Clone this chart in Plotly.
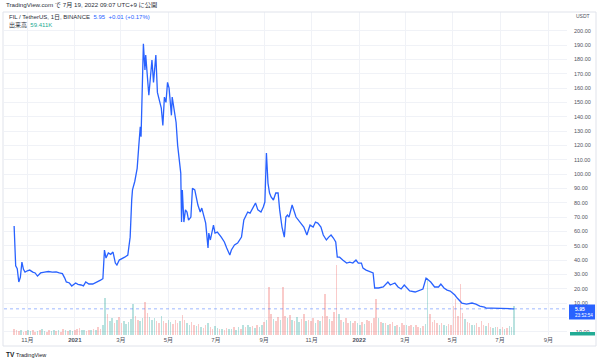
import plotly.graph_objects as go
import pandas as pd

# ---------------- data ----------------
price_dates = [
    "2020-10-15", "2020-10-16", "2020-10-17", "2020-10-19", "2020-10-21", "2020-10-23", "2020-10-25",
    "2020-10-27", "2020-10-29", "2020-11-01", "2020-11-04", "2020-11-08", "2020-11-11", "2020-11-14",
    "2020-11-18", "2020-11-23", "2020-11-28", "2020-12-03", "2020-12-08", "2020-12-12", "2020-12-16",
    "2020-12-19", "2020-12-21", "2020-12-25", "2020-12-28", "2021-01-02", "2021-01-05", "2021-01-09",
    "2021-01-12", "2021-01-15", "2021-01-19", "2021-01-24", "2021-01-30", "2021-02-03", "2021-02-06",
    "2021-02-08", "2021-02-10", "2021-02-13", "2021-02-16", "2021-02-19", "2021-02-22", "2021-02-24",
    "2021-02-27", "2021-03-03", "2021-03-06", "2021-03-10", "2021-03-13", "2021-03-15", "2021-03-16",
    "2021-03-19", "2021-03-22", "2021-03-24", "2021-03-26", "2021-03-27", "2021-03-30", "2021-04-01",
    "2021-04-02", "2021-04-06", "2021-04-10", "2021-04-12", "2021-04-15", "2021-04-17", "2021-04-22",
    "2021-04-24", "2021-04-26", "2021-04-28", "2021-04-30", "2021-05-02", "2021-05-05", "2021-05-06",
    "2021-05-09", "2021-05-11", "2021-05-13", "2021-05-17", "2021-05-18", "2021-05-19", "2021-05-21",
    "2021-05-23", "2021-05-25", "2021-05-27", "2021-05-30", "2021-06-01", "2021-06-04", "2021-06-08",
    "2021-06-11", "2021-06-13", "2021-06-16", "2021-06-18", "2021-06-21", "2021-06-22", "2021-06-24",
    "2021-06-28", "2021-06-30", "2021-07-03", "2021-07-08", "2021-07-12", "2021-07-15", "2021-07-19",
    "2021-07-21", "2021-07-23", "2021-07-25", "2021-07-29", "2021-08-03", "2021-08-06", "2021-08-08",
    "2021-08-11", "2021-08-14", "2021-08-18", "2021-08-21", "2021-08-24", "2021-08-28", "2021-08-31",
    "2021-09-02", "2021-09-04", "2021-09-06", "2021-09-08", "2021-09-10", "2021-09-13", "2021-09-16",
    "2021-09-19", "2021-09-21", "2021-09-24", "2021-09-27", "2021-09-29", "2021-10-01", "2021-10-03",
    "2021-10-07", "2021-10-12", "2021-10-17", "2021-10-22", "2021-10-26", "2021-10-30", "2021-11-03",
    "2021-11-06", "2021-11-09", "2021-11-13", "2021-11-16", "2021-11-20", "2021-11-23", "2021-11-26",
    "2021-11-29", "2021-12-02", "2021-12-04", "2021-12-07", "2021-12-11", "2021-12-16", "2021-12-20",
    "2021-12-24", "2021-12-28", "2021-12-31", "2022-01-04", "2022-01-06", "2022-01-10", "2022-01-15",
    "2022-01-19", "2022-01-21", "2022-01-26", "2022-02-01", "2022-02-07", "2022-02-10", "2022-02-16",
    "2022-02-20", "2022-02-24", "2022-02-28", "2022-03-04", "2022-03-07", "2022-03-14", "2022-03-20",
    "2022-03-24", "2022-03-28", "2022-03-31", "2022-04-03", "2022-04-08", "2022-04-13", "2022-04-16",
    "2022-04-20", "2022-04-24", "2022-04-28", "2022-05-01", "2022-05-04", "2022-05-07", "2022-05-11",
    "2022-05-13", "2022-05-19", "2022-05-26", "2022-05-31", "2022-06-05", "2022-06-11", "2022-06-13",
    "2022-06-20", "2022-06-26", "2022-07-05", "2022-07-14", "2022-07-17", "2022-07-19",
]
price_values = [
    63.7, 45.0, 36.0, 34.0, 24.7, 28.0, 38.6,
    33.5, 31.6, 32.5, 33.0, 31.6, 31.0, 28.8,
    31.0, 31.6, 32.0, 31.6, 31.8, 31.0, 30.5,
    27.4, 24.7, 24.0, 21.9, 24.0, 23.0, 22.6,
    22.0, 24.7, 23.3, 23.3, 24.7, 26.0, 27.0,
    47.0, 41.4, 45.0, 44.0, 45.6, 37.9, 36.5,
    40.0, 41.0, 42.0, 43.5, 56.0, 82.0, 89.0,
    95.0, 104.0, 119.0, 133.0, 126.0, 191.0, 172.6,
    183.0, 155.0, 179.6, 164.0, 183.0, 157.0, 146.0,
    134.0, 153.7, 150.0, 164.0, 160.0, 141.0, 153.7,
    144.7, 136.0, 120.0, 100.7, 66.5, 88.9, 66.5,
    75.0, 73.5, 67.9, 70.0, 90.0, 88.9, 78.4,
    73.5, 76.3, 70.0, 65.8, 48.4, 58.8, 54.0,
    64.4, 58.8, 59.5, 56.0, 52.6, 48.4, 43.5,
    47.0, 49.0, 50.5, 51.9, 56.0, 68.0, 70.0,
    73.5, 72.8, 76.3, 79.8, 75.0, 73.5, 77.0,
    80.5, 114.7, 93.7, 86.8, 84.0, 81.9, 86.8,
    86.8, 75.0, 63.0, 56.0, 70.0, 71.4, 70.0,
    78.4, 70.0, 66.5, 63.0, 57.5, 64.4, 63.0,
    66.5, 65.8, 63.0, 57.5, 54.0, 56.0, 57.5,
    55.4, 52.6, 42.0, 42.0, 40.0, 37.9, 38.6,
    37.9, 40.0, 37.9, 37.9, 34.4, 33.0, 31.6,
    31.0, 20.5, 20.5, 21.2, 24.7, 22.6, 24.0,
    21.2, 19.8, 22.6, 20.5, 18.4, 17.7, 19.0,
    19.8, 27.4, 26.0, 24.7, 21.2, 21.2, 23.3,
    20.5, 19.0, 18.4, 17.0, 15.6, 13.5, 10.7,
    10.0, 9.3, 10.0, 9.3, 7.9, 7.2, 6.5,
    6.5, 6.5, 6.5, 6.5, 6.0, 5.95,
]

# volume bars, one every 3 days from 2020-10-15 (rows of 10)
volume_start = "2020-10-15"
volume_values = [
    0.9, 0.8, 0.6, 0.7, 0.5, 0.6, 0.7, 0.6, 0.8, 0.5,
    0.6, 0.7, 0.9, 0.6, 0.5, 0.7, 0.6, 0.8, 0.6, 0.7,
    0.5, 0.9, 0.7, 0.6, 0.8, 0.6, 0.7, 0.9, 1.1, 0.8,
    0.7, 0.6, 0.8, 0.7, 0.9, 0.8, 1.2, 1.0, 1.6, 5.7,
    3.2, 2.2, 2.6, 1.9, 2.4, 2.8, 1.8, 2.1, 1.7, 2.0,
    2.5, 4.8, 2.9, 2.3, 2.1, 2.7, 5.1, 3.4, 2.8, 2.3,
    2.6, 2.1, 1.8, 2.9, 2.2, 1.9, 2.4, 2.0, 1.7, 2.3,
    1.9, 2.2, 3.1, 2.4, 1.8, 1.6, 2.0, 1.5, 1.4, 1.7,
    1.3, 1.1, 1.5, 1.9, 1.2, 1.0, 1.4, 1.1, 0.9, 1.0,
    0.8, 1.1, 0.9, 1.0, 1.3, 0.8, 1.2, 1.0, 1.5, 1.3,
    1.6, 1.2, 1.4, 1.1, 1.5, 1.3, 1.6, 2.0, 2.4, 7.5,
    3.2, 2.5, 2.1, 2.8, 2.4, 7.4, 3.0, 2.6, 3.1, 2.4,
    2.2, 2.8, 2.0, 2.5, 3.3, 2.1, 2.4, 2.2, 2.6, 1.9,
    2.4, 2.1, 2.9, 6.3, 3.0, 2.5, 2.2, 3.5, 10.8, 3.2,
    2.4, 2.0, 2.6, 1.9, 2.2, 1.8, 2.1, 1.8, 1.6, 2.0,
    1.7, 2.4, 2.1, 1.9, 2.6, 5.5, 2.6, 2.0, 1.8, 1.9,
    1.5, 1.7, 2.0, 1.4, 1.6, 1.3, 1.8, 1.5, 1.6, 1.4,
    1.6, 1.2, 1.5, 1.3, 1.1, 1.4, 1.7, 8.8, 3.2, 2.0,
    2.4, 1.8, 1.5, 1.9, 1.6, 1.4, 1.7, 1.5, 4.5, 5.6,
    3.0, 7.9, 3.4, 2.5, 2.0, 1.8, 1.6, 1.5, 1.8, 1.3,
    2.2, 1.6, 1.4, 1.9, 1.2, 1.1, 1.3, 1.2, 1.0, 1.3,
    0.9, 1.1, 1.4, 1.2, 4.5,
]
volume_direction = (
    "dddudduudd" "uduudduudu" "dduduudddu" "uddududduu" "duududduuu"
    "uudduudduu" "uddudduudd" "dudduuddud" "uddudduudu" "dduuduudud"
    "uududuudud" "dudduddudu" "duuddudddu" "dudddudddu" "duddudduud"
    "udddddudud" "uddududdud" "dudduduudd" "dduduudddd" "dddudduudd"
    "ddudduudud" "uduuu"
)

x_tick_dates = ["2020-11-01", "2021-01-01", "2021-03-01", "2021-05-01", "2021-07-01", "2021-09-01",
                "2021-11-01", "2022-01-01", "2022-03-01", "2022-05-01", "2022-07-01", "2022-09-01"]
x_tick_text = ["11月", "<b>2021</b>", "3月", "5月", "7月", "9月",
               "11月", "<b>2022</b>", "3月", "5月", "7月", "9月"]
y_tick_values = list(range(-10, 201, 10))
y_tick_text = [f"{v:.2f}" for v in y_tick_values]

last_price = 5.95

# ---------------- figure ----------------
W, H = 602, 361
L, R, T, B = 4, 567, 12, 335


def px(xp):
    return (xp - L) / (R - L)


def py(yp):
    return (B - yp) / (B - T)


FONT = "Liberation Sans, Noto Sans CJK JP, sans-serif"
TXT = "#50535e"

vol_dates = pd.date_range(volume_start, periods=len(volume_values), freq="3D")
vol_colors = ["rgba(38,166,154,0.32)" if c == "u" else "rgba(239,83,80,0.30)"
              for c in volume_direction[:len(volume_values)]]

fig = go.Figure()
fig.add_trace(go.Bar(
    x=vol_dates, y=volume_values, yaxis="y",
    marker=dict(color=vol_colors, line=dict(width=0)),
    width=2.0 * 86400000, hoverinfo="skip", showlegend=False,
))
fig.add_trace(go.Scatter(
    x=price_dates, y=price_values, yaxis="y2", mode="lines",
    line=dict(color="#2962FF", width=1.3), hoverinfo="skip", showlegend=False,
))

fig.update_layout(
    width=W, height=H, autosize=False,
    margin=dict(l=L, r=W - R, t=T, b=H - B),
    paper_bgcolor="white", plot_bgcolor="white",
    font=dict(family=FONT, size=6, color=TXT),
    bargap=0,
    xaxis=dict(
        type="date", range=["2020-10-02", "2022-09-25"],
        tickmode="array", tickvals=x_tick_dates, ticktext=x_tick_text,
        showgrid=True, gridcolor="#f0f2f7", gridwidth=1,
        zeroline=False, showline=False, ticks="",
        tickfont=dict(size=6, color=TXT),
    ),
    yaxis=dict(range=[0, 50], visible=False, showgrid=False, zeroline=False),
    yaxis2=dict(
        overlaying="y", side="right", range=[-12.3, 213.1],
        tickmode="array", tickvals=y_tick_values, ticktext=y_tick_text,
        showgrid=True, gridcolor="#f0f2f7", gridwidth=1,
        zeroline=False, showline=False, ticks="",
        ticklabelstandoff=6,
        tickfont=dict(size=5.5, color=TXT),
    ),
)

shapes = [
    # chart frame
    dict(type="rect", xref="paper", yref="paper", x0=px(3), x1=px(596), y0=py(346), y1=py(12),
         line=dict(color="#e0e3eb", width=1), fillcolor="rgba(0,0,0,0)", layer="above"),
    # last price dotted line
    dict(type="line", xref="paper", yref="y2", x0=0, x1=1, y0=last_price, y1=last_price,
         line=dict(color="rgba(41,98,255,0.45)", width=1, dash="dot"), layer="above"),
    # last price label box
    dict(type="rect", xref="paper", yref="paper", x0=px(569), x1=px(595), y0=py(319.5), y1=py(304.5),
         line=dict(width=0), fillcolor="#2962FF", layer="above"),
    # volume label box (clipped)
    dict(type="rect", xref="paper", yref="paper", x0=px(570), x1=px(595), y0=py(335.5), y1=py(332),
         line=dict(width=0), fillcolor="#22ab94", layer="above"),
]
fig.update_layout(shapes=shapes)

ann = [
    dict(x=px(4), y=py(5.5), text="TradingView.com で 7月 19, 2022 09:07 UTC+9 に公開",
         font=dict(size=6.2, color="#2a2e39")),
    dict(x=px(7), y=py(17.5),
         text="FIL / TetherUS, 1日, BINANCE  <span style='color:#2962FF'>5.95  +0.01 (+0.17%)</span>",
         font=dict(size=6, color="#2a2e39")),
    dict(x=px(7), y=py(24.8),
         text="出来高  <span style='color:#22ab94'>59.411K</span>",
         font=dict(size=6, color="#2a2e39")),
    dict(x=px(574), y=py(16), text="USDT", font=dict(size=5, color=TXT)),
    dict(x=px(573), y=py(308.5), text="<b>5.95</b>", font=dict(size=5, color="white")),
    dict(x=px(573), y=py(315.5), text="23:52:54", font=dict(size=4.6, color="white")),
    dict(x=px(4), y=py(354.5), text="<b>TV</b>", font=dict(size=6.5, color="#131722")),
    dict(x=px(14), y=py(354.5), text="TradingView", font=dict(size=5.5, color="#131722")),
]
for a in ann:
    a.update(xref="paper", yref="paper", xanchor="left", yanchor="middle", showarrow=False)
fig.update_layout(annotations=ann)

fig.write_html(
    "out.html",
    config={"displayModeBar": False, "staticPlot": True},
    post_script="document.body.style.margin='0';document.body.style.overflow='hidden';",
)
